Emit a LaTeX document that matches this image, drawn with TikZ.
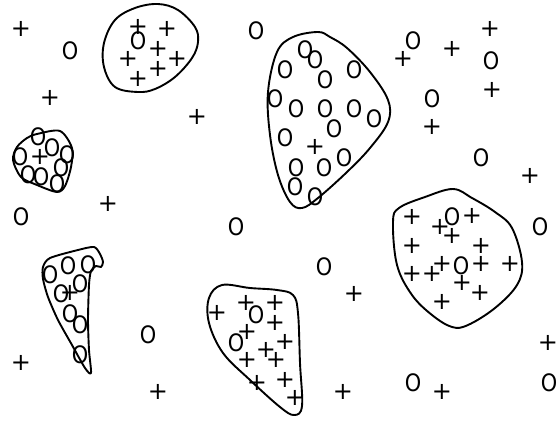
\documentclass[tikz,border=0pt]{standalone}
\usepackage{fontspec}
\setmainfont{DejaVu Sans}
\begin{document}
\begin{tikzpicture}[x=1pt,y=-1pt,
  symb/.style={inner sep=0pt,font=\fontsize{24}{26}\selectfont},
  blob/.style={draw=black,line width=1.9pt,line join=round}]
\useasboundingbox (0,0) rectangle (559,421);
\fill[white] (0,0) rectangle (559,421);
% outlines
\draw[blob] plot[smooth cycle,tension=0.6] coordinates {(158,4) (178,10) (195,27) (198,42) (192,58) (175,77) (155,89) (138,92) (115,87) (104,67) (104,43) (115,20) (135,8)};
\draw[blob] plot[smooth cycle,tension=0.5] coordinates {(37,134) (60,131) (72,148) (71,167) (65,186) (57,192) (37,185) (21,177) (13,160) (17,147) (27,138)};
\draw[blob] plot[smooth cycle,tension=0.6] coordinates {(318,32) (293,37) (277,52) (268,92) (270,135) (278,175) (290,202) (302,208) (318,198) (347,172) (370,148) (388,122) (388,100) (370,72) (347,48) (330,37)};
\draw[blob] plot[smooth cycle,tension=0.45] coordinates {(78,250) (94,247) (100,254) (103,262) (101,267) (96,266) (91,271) (89,285) (88,320) (89,350) (91,373) (85,368) (72,345) (58,320) (48,297) (43,279) (43,267) (50,258)};
\draw[blob] plot[smooth cycle,tension=0.6] coordinates {(222,285) (250,288) (277,290) (293,295) (298,313) (300,363) (302,406) (294,415) (280,407) (250,380) (223,353) (209,323) (209,298)};
\draw[blob] plot[smooth cycle,tension=0.6] coordinates {(453,189) (425,197) (399,208) (393,222) (397,265) (412,295) (432,315) (452,327) (468,325) (495,308) (517,285) (522,262) (512,228) (495,212) (472,198)};
% plus marks
\foreach \px/\py [count=\i] in {21/29,50/98,197/117,108/204,
  138/27,167/29,158/49,128/59,177/59,158/69,138/79,
  40/157,70/293,315/147,
  403/59,452/49,490/29,492/90,432/127,530/176,
  21/363,158/392,
  217/313,246/303,275/303,275/323,247/332,285/342,266/350,276/360,247/360,257/383,285/380,295/398,
  412/217,472/216,440/227,452/236,412/246,481/246,442/264,481/264,510/264,412/274,432/274,462/283,480/293,442/302,
  354/294,548/343,442/392,343/392}
  \node[symb] (p\i) at (\px,\py) {+};
% circle marks
\foreach \px/\py [count=\i] in {70/51,256/31,138/41,
  38/137,52/148,20/157,67/155,61/168,28/175,41/177,57/184,
  305/50,315/60,285/70,354/70,325/80,275/99,296/109,325/109,354/109,374/119,334/129,285/138,344/158,296/168,324/168,295/187,315/197,
  413/41,491/61,432/99,481/158,
  21/217,236/227,148/335,
  50/275,68/266,88/265,61/294,80/284,70/314,80/325,80/355,
  256/315,236/343,
  452/217,461/266,
  540/227,324/267,413/383,549/383}
  \node[symb] (o\i) at (\px,\py) {\scalebox{0.87}[1]{O}};
\end{tikzpicture}
\end{document}
